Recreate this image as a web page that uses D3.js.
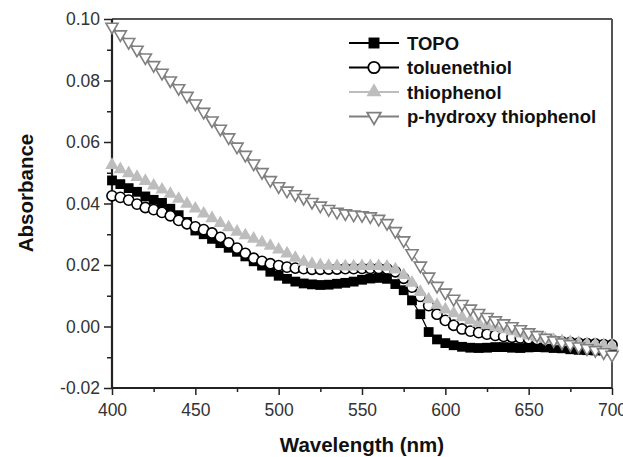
<!DOCTYPE html>
<html>
<head>
<meta charset="utf-8">
<script src="https://cdn.jsdelivr.net/npm/d3@7"></script>
<style>
  html, body { margin: 0; padding: 0; background: #fff; }
  svg { display: block; font-family: "Liberation Sans", Arial, sans-serif; }
</style>
</head>
<body>
<div id="chart"></div>
<script>
// wavelengths (nm) of the plotted points, one every 5 nm
var wavelength = d3.range(400, 701, 5);

var topo = [
  0.0475, 0.0463, 0.0450, 0.0438, 0.0423, 0.0412, 0.0402, 0.0383, 0.0362, 0.0340,
  0.0312, 0.0300, 0.0285, 0.0271, 0.0256, 0.0243, 0.0228, 0.0212, 0.0198, 0.0178,
  0.0165, 0.0155, 0.0146, 0.0140, 0.0137, 0.0135, 0.0136, 0.0139, 0.0142, 0.0146,
  0.0152, 0.0156, 0.0158, 0.0155, 0.0138, 0.0118, 0.0085, 0.0040, -0.0018, -0.0042,
  -0.0054, -0.0061, -0.0066, -0.0069, -0.0070, -0.0069, -0.0067, -0.0067, -0.0069, -0.0070,
  -0.0068, -0.0067, -0.0068, -0.0070, -0.0071, -0.0074, -0.0076, -0.0077, -0.0078, -0.0078,
  -0.0078
];

var toluenethiol = [
  0.0425, 0.0420, 0.0411, 0.0398, 0.0387, 0.0380, 0.0371, 0.0360, 0.0345, 0.0334,
  0.0324, 0.0315, 0.0304, 0.0290, 0.0272, 0.0255, 0.0238, 0.0222, 0.0212, 0.0204,
  0.0198, 0.0193, 0.0190, 0.0188, 0.0186, 0.0186, 0.0187, 0.0187, 0.0188, 0.0188,
  0.0189, 0.0189, 0.0189, 0.0187, 0.0178, 0.0157, 0.0128, 0.0098, 0.0068, 0.0040,
  0.0020, 0.0004, -0.0008, -0.0015, -0.0020, -0.0025, -0.0029, -0.0032, -0.0035, -0.0037,
  -0.0040, -0.0042, -0.0045, -0.0047, -0.0050, -0.0052, -0.0054, -0.0056, -0.0057, -0.0059,
  -0.0060
];

var thiophenol = [
  0.0525, 0.0511, 0.0498, 0.0486, 0.0473, 0.0458, 0.0445, 0.0431, 0.0415, 0.0399,
  0.0383, 0.0367, 0.0352, 0.0336, 0.0322, 0.0308, 0.0296, 0.0285, 0.0273, 0.0262,
  0.0250, 0.0237, 0.0223, 0.0210, 0.0203, 0.0199, 0.0197, 0.0196, 0.0195, 0.0195,
  0.0196, 0.0196, 0.0196, 0.0194, 0.0185, 0.0167, 0.0142, 0.0112, 0.0088, 0.0070,
  0.0055, 0.0043, 0.0030, 0.0020, 0.0011, 0.0004, -0.0003, -0.0009, -0.0016, -0.0023,
  -0.0030, -0.0035, -0.0040, -0.0044, -0.0048, -0.0051, -0.0054, -0.0057, -0.0059, -0.0061,
  -0.0063
];

var hydroxyThiophenol = [
  0.0975, 0.0950, 0.0925, 0.0900, 0.0875, 0.0850, 0.0825, 0.0800, 0.0775, 0.0750,
  0.0725, 0.0698, 0.0670, 0.0643, 0.0615, 0.0585, 0.0558, 0.0530, 0.0502, 0.0476,
  0.0456, 0.0442, 0.0430, 0.0418, 0.0405, 0.0393, 0.0382, 0.0373, 0.0368, 0.0364,
  0.0362, 0.0358, 0.0350, 0.0336, 0.0310, 0.0280, 0.0238, 0.0198, 0.0162, 0.0132,
  0.0110, 0.0090, 0.0073, 0.0058, 0.0044, 0.0031, 0.0020, 0.0010, 0.0001, -0.0009,
  -0.0019, -0.0028, -0.0037, -0.0045, -0.0052, -0.0058, -0.0065, -0.0071, -0.0077, -0.0084,
  -0.0092
];

var seriesNames = ["TOPO", "toluenethiol", "thiophenol", "p-hydroxy thiophenol"];
var xTicks = [400, 450, 500, 550, 600, 650, 700];
var yTicks = [-0.02, 0.00, 0.02, 0.04, 0.06, 0.08, 0.10];

var series = [
  { name: seriesNames[0], values: topo, line: "#000", symbol: d3.symbolSquare, size: 96, fill: "#000", stroke: "none", rotate: 0 },
  { name: seriesNames[1], values: toluenethiol, line: "#000", symbol: d3.symbolCircle, size: 82, fill: "#fff", stroke: "#000", rotate: 0 },
  { name: seriesNames[2], values: thiophenol, line: "#bdbdbd", symbol: d3.symbolTriangle, size: 78, fill: "#bdbdbd", stroke: "none", rotate: 0 },
  { name: seriesNames[3], values: hydroxyThiophenol, line: "#7f7f7f", symbol: d3.symbolTriangle, size: 64, fill: "#fff", stroke: "#7f7f7f", rotate: 180 }
];

var W = 623, H = 457;
var margin = { left: 112, top: 19, right: 11, bottom: 69 };
var width = W - margin.left - margin.right,
    height = H - margin.top - margin.bottom;

var svg = d3.select("#chart").append("svg")
    .attr("width", W)
    .attr("height", H);

var g = svg.append("g")
    .attr("transform", "translate(" + margin.left + "," + margin.top + ")");

var x = d3.scaleLinear().domain([400, 700]).range([0, width]);
var y = d3.scaleLinear().domain([-0.02, 0.10]).range([height, 0]);

var fmtY = d3.format(".2f");

// minor ticks
var minorX = d3.range(425, 700, 50);
var minorY = d3.range(-0.01, 0.1, 0.02);

g.append("g")
    .attr("transform", "translate(0," + height + ")")
    .call(d3.axisBottom(x).tickValues(minorX).tickSize(4).tickFormat(""))
    .call(function(a){ a.select(".domain").remove(); a.selectAll("line").attr("stroke", "#222").attr("stroke-width", 1.5); });

g.append("g")
    .call(d3.axisLeft(y).tickValues(minorY).tickSize(5).tickFormat(""))
    .call(function(a){ a.select(".domain").remove(); a.selectAll("line").attr("stroke", "#222").attr("stroke-width", 1.5); });

// major axes
var xAxis = g.append("g")
    .attr("transform", "translate(0," + height + ")")
    .call(d3.axisBottom(x).tickValues(xTicks).tickSize(7).tickPadding(9).tickFormat(d3.format("d")));

var yAxis = g.append("g")
    .call(d3.axisLeft(y).tickValues(yTicks).tickSize(8).tickPadding(4)
      .tickFormat(function(d){ return fmtY(d).replace("\u2212", "-"); }));

[xAxis, yAxis].forEach(function(a){
  a.select(".domain").remove();
  a.selectAll("line").attr("stroke", "#222").attr("stroke-width", 1.5);
  a.selectAll("text")
    .attr("fill", "#333")
    .style("font-size", "17.5px")
    .style("font-family", "'Liberation Sans', Arial, sans-serif");
});

// frame
g.append("line").attr("x1", width).attr("x2", width).attr("y1", 0).attr("y2", height)
    .attr("stroke", "#555").attr("stroke-width", 2);
g.append("line").attr("x1", 0).attr("x2", width).attr("y1", 0).attr("y2", 0)
    .attr("stroke", "#555").attr("stroke-width", 2);
g.append("line").attr("x1", 0).attr("x2", 0).attr("y1", 0).attr("y2", height)
    .attr("stroke", "#222").attr("stroke-width", 2.2);
g.append("line").attr("x1", 0).attr("x2", width).attr("y1", height).attr("y2", height)
    .attr("stroke", "#222").attr("stroke-width", 2.2);

// data
var line = d3.line()
    .x(function(d, i){ return x(wavelength[i]); })
    .y(function(d){ return y(d); });

series.forEach(function(s){
  var sg = g.append("g").attr("class", "series");
  sg.append("path")
      .datum(s.values)
      .attr("d", line)
      .attr("fill", "none")
      .attr("stroke", s.line)
      .attr("stroke-width", 1.2);
  sg.selectAll("path.pt")
    .data(s.values)
    .enter().append("path")
      .attr("class", "pt")
      .attr("d", d3.symbol().type(s.symbol).size(s.size))
      .attr("transform", function(d, i){
        return "translate(" + x(wavelength[i]) + "," + y(d) + ") rotate(" + s.rotate + ")";
      })
      .attr("fill", s.fill)
      .attr("stroke", s.stroke)
      .attr("stroke-width", 1.6);
});

// legend
var legend = svg.append("g")
    .attr("transform", "translate(349,43)");

var items = legend.selectAll("g")
    .data(series)
    .enter().append("g")
      .attr("transform", function(d, i){ return "translate(0," + (i * 24.5) + ")"; });

items.append("line")
    .attr("x1", 0).attr("x2", 50)
    .attr("stroke", function(d){ return d.line; })
    .attr("stroke-width", 1.8);

items.append("path")
    .attr("d", function(d){ return d3.symbol().type(d.symbol).size(d.size * 1.25)(); })
    .attr("transform", function(d){ return "translate(25,0) rotate(" + d.rotate + ")"; })
    .attr("fill", function(d){ return d.fill; })
    .attr("stroke", function(d){ return d.stroke; })
    .attr("stroke-width", 1.8);

items.append("text")
    .attr("x", 58)
    .attr("dy", "0.36em")
    .style("font-size", "18.5px")
    .style("font-weight", "bold")
    .attr("fill", "#111")
    .text(function(d){ return d.name; });

// axis titles
svg.append("text")
    .attr("x", margin.left + width / 2)
    .attr("y", 452)
    .attr("text-anchor", "middle")
    .style("font-size", "20.5px")
    .style("font-weight", "bold")
    .attr("fill", "#111")
    .text("Wavelength (nm)");

svg.append("text")
    .attr("transform", "translate(33,193) rotate(-90)")
    .attr("text-anchor", "middle")
    .style("font-size", "20.5px")
    .style("font-weight", "bold")
    .attr("fill", "#111")
    .text("Absorbance");
</script>
</body>
</html>
